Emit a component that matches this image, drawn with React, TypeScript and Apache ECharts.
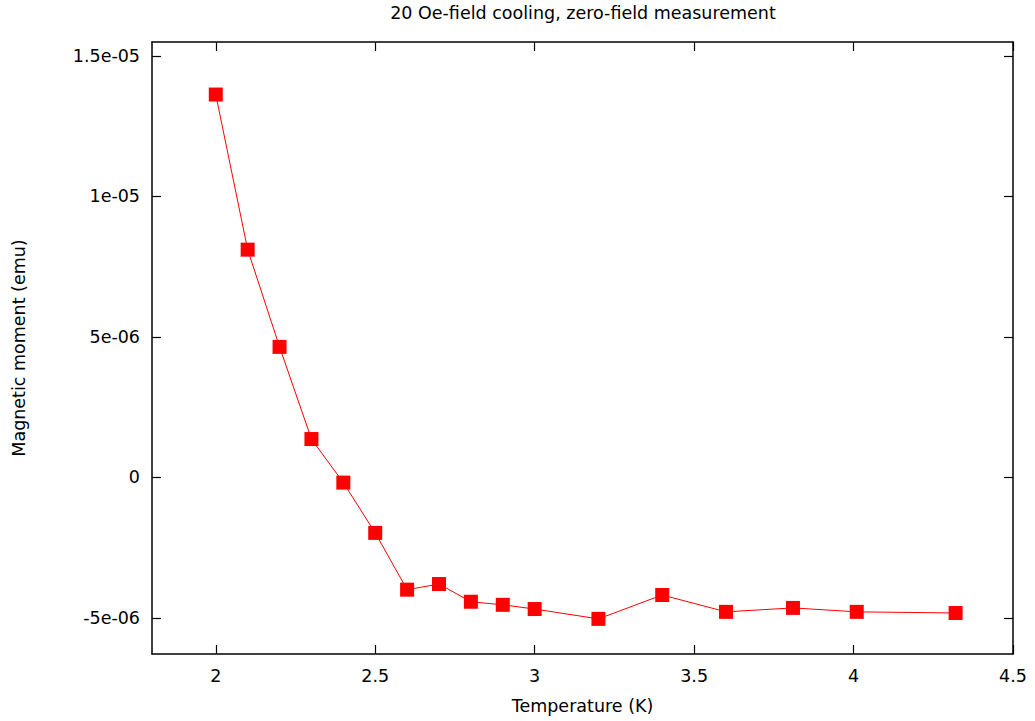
import React, { useEffect, useRef } from "react";
import * as echarts from "echarts";

const temperature = [2.0, 2.1, 2.2, 2.3, 2.4, 2.5, 2.6, 2.7, 2.8, 2.9, 3.0, 3.2, 3.4, 3.6, 3.81, 4.01, 4.32];
const moment = [
  1.362e-5, 8.1e-6, 4.64e-6, 1.36e-6, -0.19e-6, -1.98e-6, -4.0e-6, -3.8e-6, -4.43e-6, -4.54e-6,
  -4.69e-6, -5.04e-6, -4.19e-6, -4.79e-6, -4.65e-6, -4.79e-6, -4.83e-6,
];
const xTicks = [2, 2.5, 3, 3.5, 4, 4.5];
const yTicks = [-5e-6, 0, 5e-6, 1e-5, 1.5e-5];

const titleText = "20 Oe-field cooling, zero-field measurement";
const xName = "Temperature (K)";
const yName = "Magnetic moment (emu)";

function gnuFmt(v: number): string {
  if (Math.abs(v) < 1e-12) return "0";
  const s = v.toExponential();
  const m = s.match(/^(-?[\d.]+)e([+-])(\d+)$/);
  if (!m) return s;
  const exp = m[3].length < 2 ? "0" + m[3] : m[3];
  return `${m[1]}e${m[2]}${exp}`;
}

export default function App() {
  const ref = useRef<HTMLDivElement>(null);
  useEffect(() => {
    if (!ref.current) return;
    const chart = echarts.init(ref.current, null, { renderer: "svg" });
    const font = "'DejaVu Sans', sans-serif";
    const fs = 17.5;
    const axisLine = { show: true, onZero: false, lineStyle: { color: "#000", width: 1.5 } };
    const tick = (vals: number[]) => ({
      show: true,
      inside: true,
      length: 9,
      customValues: vals,
      lineStyle: { color: "#000", width: 1.2 },
    });
    const xMin = 1.8;
    const xMax = 4.5;
    const yMin = -6.29e-6;
    const yMax = 1.549e-5;
    chart.setOption({
      animation: false,
      backgroundColor: "#fff",
      textStyle: { fontFamily: font },
      title: {
        text: titleText,
        left: 583,
        top: 4,
        padding: 0,
        textAlign: "center",
        textStyle: { fontFamily: font, fontSize: fs, fontWeight: "normal", color: "#000" },
      },
      grid: { left: 152, right: 22, top: 42, bottom: 67, containLabel: false },
      xAxis: [
        {
          type: "value",
          min: xMin,
          max: xMax,
          position: "bottom",
          name: xName,
          nameLocation: "middle",
          nameGap: 43,
          nameTextStyle: { fontFamily: font, fontSize: fs, color: "#000" },
          axisLine,
          axisTick: tick(xTicks),
          axisLabel: {
            customValues: xTicks,
            margin: 13,
            fontFamily: font,
            fontSize: fs,
            color: "#000",
            formatter: (v: number) => String(v),
          },
          splitLine: { show: false },
        },
        {
          type: "value",
          min: xMin,
          max: xMax,
          position: "top",
          axisLine,
          axisTick: tick(xTicks),
          axisLabel: { show: false },
          splitLine: { show: false },
        },
      ],
      yAxis: [
        {
          type: "value",
          min: yMin,
          max: yMax,
          position: "left",
          name: yName,
          nameLocation: "middle",
          nameGap: 124,
          nameRotate: 90,
          nameTextStyle: { fontFamily: font, fontSize: fs, color: "#000" },
          axisLine,
          axisTick: tick(yTicks),
          axisLabel: {
            customValues: yTicks,
            margin: 12,
            fontFamily: font,
            fontSize: fs,
            color: "#000",
            formatter: (v: number) => gnuFmt(v),
          },
          splitLine: { show: false },
        },
        {
          type: "value",
          min: yMin,
          max: yMax,
          position: "right",
          axisLine,
          axisTick: tick(yTicks),
          axisLabel: { show: false },
          splitLine: { show: false },
        },
      ],
      series: [
        {
          type: "line",
          xAxisIndex: 0,
          yAxisIndex: 0,
          data: temperature.map((t, i) => [t, moment[i]]),
          symbol: "rect",
          symbolSize: 14,
          showAllSymbol: true,
          itemStyle: { color: "#ff0000" },
          lineStyle: { color: "#ff0000", width: 1 },
        },
      ],
    });
    return () => chart.dispose();
  }, []);
  return (
    <div
      ref={ref}
      style={{ position: "fixed", left: 0, top: 0, width: 1035, height: 721, background: "#fff" }}
    />
  );
}
